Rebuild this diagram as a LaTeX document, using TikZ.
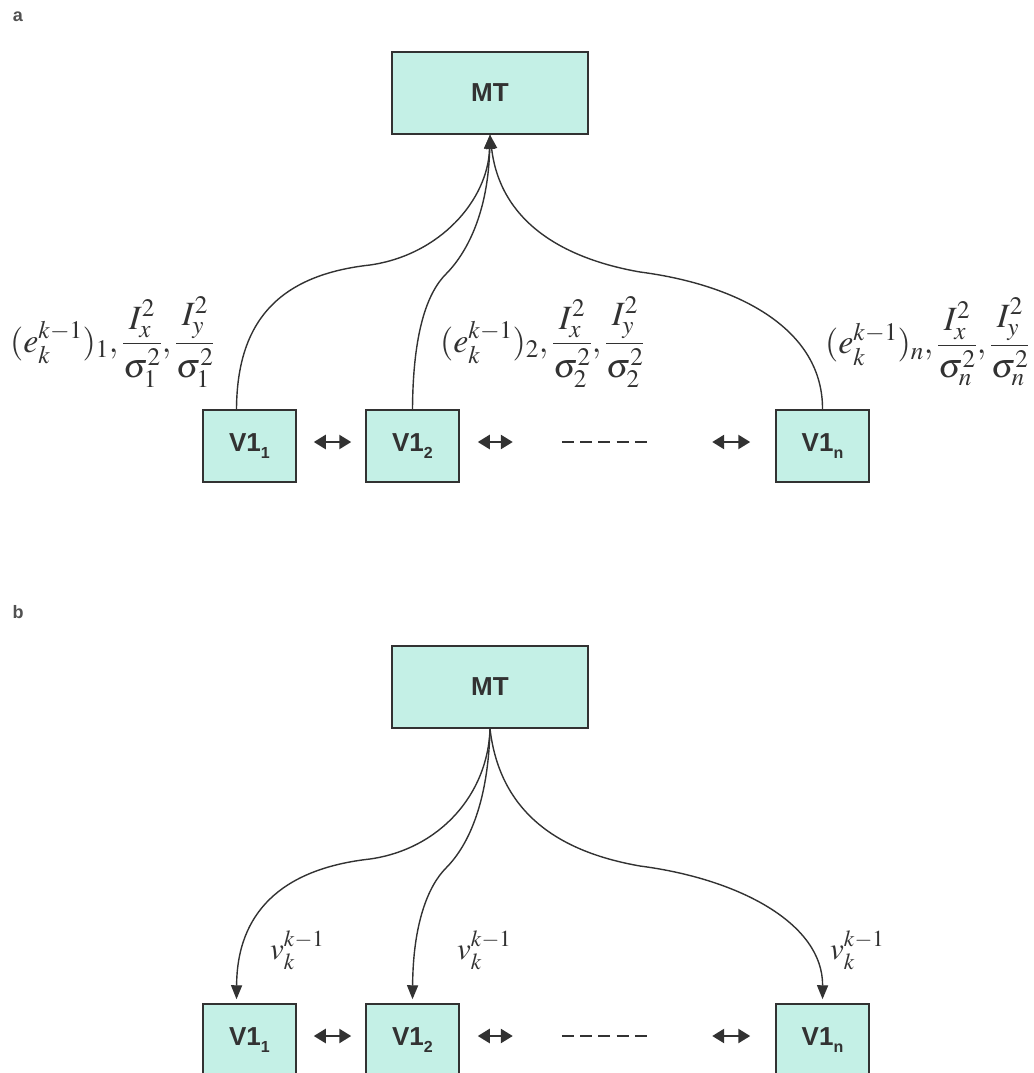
\documentclass[tikz,border=0pt]{standalone}
\usepackage{amsmath}
\usepackage{mathptmx}
\usepackage[no-math]{fontspec}
\setsansfont{Liberation Sans}
\usetikzlibrary{arrows.meta}
\definecolor{boxfill}{RGB}{196,240,230}
\definecolor{ink}{RGB}{50,50,50}
\newcommand{\vone}[1]{V1\raisebox{-0.25em}{\fontsize{16}{16}\selectfont #1}}
\begin{document}
\begin{tikzpicture}[x=1pt,y=-1pt,
  box/.style={draw=ink, line width=1.5pt, fill=boxfill, inner sep=0pt, text=ink,
              font=\sffamily\bfseries\fontsize{26}{30}\selectfont},
  mtbox/.style={box, minimum width=196pt, minimum height=82pt},
  vbox/.style={box, minimum width=93pt, minimum height=72pt},
  link/.style={draw=ink, line width=1.4pt, -{Triangle[length=14pt,width=11pt]}},
  swap/.style={draw=ink, line width=2.5pt,
               {Triangle[length=12pt,width=14pt]}-{Triangle[length=12pt,width=14pt]}},
  dashrow/.style={draw=ink, line width=2pt, dash pattern=on 12pt off 6.25pt},
  dotsnode/.style={minimum width=85pt, minimum height=4pt, inner sep=0pt},
  lab/.style={text=ink, inner sep=0pt, anchor=west, font=\fontsize{34}{40}\selectfont},
  vlab/.style={lab, font=\fontsize{31}{36}\selectfont},
  tag/.style={text=ink!85, font=\sffamily\bfseries\fontsize{18}{20}\selectfont}]
\useasboundingbox (0,0) rectangle (1033,1073);

% ---------------- panel a ----------------
\node[tag] (taga) at (18,17) {a};
\node[mtbox] (MTa) at (490,93) {MT};
\node[vbox] (V1a1) at (249.5,446) {\vone{1}};
\node[vbox] (V1a2) at (412.5,446) {\vone{2}};
\node[vbox] (V1an) at (822.5,446) {\vone{n}};
\node[dotsnode] (dotsa) at (604.5,442) {};
\draw[dashrow] (dotsa.west) -- (dotsa.east);

\draw[swap, shorten <=17pt, shorten >=14pt] ([yshift=4pt]V1a1.east) -- ([yshift=4pt]V1a2.west);
\draw[swap, shorten <=18pt, shorten >=49pt] ([yshift=4pt]V1a2.east) -- (dotsa.west);
\draw[swap, shorten <=65pt, shorten >=25pt] (dotsa.east) -- ([yshift=4pt]V1an.west);

\draw[link] ([xshift=-13pt]V1a1.north) .. controls (237,320) and (280,275) .. (370,265)
      .. controls (440,255) and (488,200) .. (MTa.south);
\draw[link] (V1a2.north) .. controls (413,330) and (428,292) .. (446,274)
      .. controls (462,258) and (488,220) .. (MTa.south);
\draw[link] (V1an.north) .. controls (823,330) and (740,285) .. (640,272)
      .. controls (560,258) and (500,220) .. (MTa.south);

\node[lab] (la1) at (10,342) {$(e_k^{k-1})_1,\dfrac{I_x^2}{\sigma_1^2},\dfrac{I_y^2}{\sigma_1^2}$};
\node[lab] (la2) at (440,342) {$(e_k^{k-1})_2,\dfrac{I_x^2}{\sigma_2^2},\dfrac{I_y^2}{\sigma_2^2}$};
\node[lab] (la3) at (825,342) {$(e_k^{k-1})_n,\dfrac{I_x^2}{\sigma_n^2},\dfrac{I_y^2}{\sigma_n^2}$};

% ---------------- panel b ----------------
\begin{scope}[yshift=-594pt]
\node[tag] (tagb) at (18,18) {b};
\node[mtbox] (MTb) at (490,93) {MT};
\node[vbox] (V1b1) at (249.5,446) {\vone{1}};
\node[vbox] (V1b2) at (412.5,446) {\vone{2}};
\node[vbox] (V1bn) at (822.5,446) {\vone{n}};
\node[dotsnode] (dotsb) at (604.5,442) {};
\draw[dashrow] (dotsb.west) -- (dotsb.east);

\draw[swap, shorten <=17pt, shorten >=14pt] ([yshift=4pt]V1b1.east) -- ([yshift=4pt]V1b2.west);
\draw[swap, shorten <=18pt, shorten >=49pt] ([yshift=4pt]V1b2.east) -- (dotsb.west);
\draw[swap, shorten <=65pt, shorten >=25pt] (dotsb.east) -- ([yshift=4pt]V1bn.west);

\draw[link, shorten >=4pt] (MTb.south) .. controls (488,200) and (440,255) .. (370,265)
      .. controls (280,275) and (237,320) .. ([xshift=-13pt]V1b1.north);
\draw[link, shorten >=4pt] (MTb.south) .. controls (488,220) and (462,258) .. (446,274)
      .. controls (428,292) and (413,330) .. (V1b2.north);
\draw[link, shorten >=4pt] (MTb.south) .. controls (500,220) and (560,258) .. (640,272)
      .. controls (740,285) and (823,330) .. (V1bn.north);

\node[vlab] (lb1) at (270,356) {$v_k^{k-1}$};
\node[vlab] (lb2) at (457,356) {$v_k^{k-1}$};
\node[vlab] (lb3) at (830,356) {$v_k^{k-1}$};
\end{scope}
\end{tikzpicture}
\end{document}
